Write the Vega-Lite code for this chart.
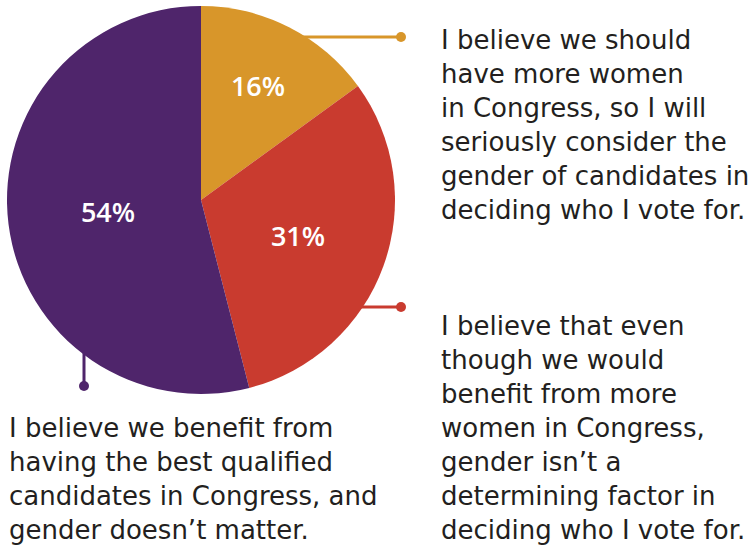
{
  "$schema": "https://vega.github.io/schema/vega-lite/v6.json",
  "width": 754,
  "height": 550,
  "padding": 0,
  "autosize": {"type": "fit", "contains": "padding"},
  "background": "white",
  "config": {"view": {"stroke": null}},
  "datasets": {
    "slices": [
      {"answer": "More women in Congress: consider gender", "share": 15, "label": "16%", "lx": 258, "ly": 88},
      {"answer": "Benefit from more women, but gender not a factor", "share": 31, "label": "31%", "lx": 298, "ly": 238},
      {"answer": "Best qualified candidates, gender doesn't matter", "share": 54, "label": "54%", "lx": 108, "ly": 214}
    ],
    "connectors": [
      {"answer": "More women in Congress: consider gender", "x": 290, "x2": 401, "y": 37, "y2": 37},
      {"answer": "Benefit from more women, but gender not a factor", "x": 350, "x2": 401, "y": 307, "y2": 307},
      {"answer": "Best qualified candidates, gender doesn't matter", "x": 84, "x2": 84, "y": 340, "y2": 386}
    ],
    "dots": [
      {"answer": "More women in Congress: consider gender", "x": 401, "y": 37},
      {"answer": "Benefit from more women, but gender not a factor", "x": 401, "y": 307},
      {"answer": "Best qualified candidates, gender doesn't matter", "x": 84, "y": 386}
    ],
    "notes": [
      {"x": 441, "y": 49, "lines": ["I believe we should", "have more women", "in Congress, so I will", "seriously consider the", "gender of candidates in", "deciding who I vote for."]},
      {"x": 441, "y": 335, "lines": ["I believe that even", "though we would", "benefit from more", "women in Congress,", "gender isn’t a", "determining factor in", "deciding who I vote for."]},
      {"x": 9, "y": 437, "lines": ["I believe we benefit from", "having the best qualified", "candidates in Congress, and", "gender doesn’t matter."]}
    ]
  },
  "layer": [
    {
      "data": {"name": "connectors"},
      "mark": {"type": "rule", "strokeWidth": 3},
      "encoding": {
        "x": {"field": "x", "type": "quantitative", "scale": {"domain": [0, 754], "nice": false, "zero": false}, "axis": null},
        "x2": {"field": "x2"},
        "y": {"field": "y", "type": "quantitative", "scale": {"domain": [0, 550], "nice": false, "zero": false, "reverse": true}, "axis": null},
        "y2": {"field": "y2"},
        "color": {"field": "answer", "type": "nominal", "legend": null,
          "scale": {"domain": ["More women in Congress: consider gender", "Benefit from more women, but gender not a factor", "Best qualified candidates, gender doesn't matter"],
                    "range": ["#D8962A", "#C93B2F", "#4F256B"]}}
      }
    },
    {
      "data": {"name": "slices"},
      "mark": {"type": "arc", "radius": 194, "stroke": null},
      "encoding": {
        "theta": {"field": "share", "type": "quantitative", "stack": true},
        "order": {"field": "share", "type": "quantitative", "sort": "ascending"},
        "x": {"datum": 201, "type": "quantitative"},
        "y": {"datum": 200, "type": "quantitative"},
        "color": {"field": "answer", "type": "nominal", "legend": null}
      }
    },
    {
      "data": {"name": "dots"},
      "mark": {"type": "point", "filled": true, "opacity": 1, "size": 100},
      "encoding": {
        "x": {"field": "x", "type": "quantitative"},
        "y": {"field": "y", "type": "quantitative"},
        "color": {"field": "answer", "type": "nominal", "legend": null}
      }
    },
    {
      "data": {"name": "slices"},
      "mark": {"type": "text", "font": "Open Sans", "fontSize": 27, "fontWeight": 600, "color": "white", "align": "center", "baseline": "middle"},
      "encoding": {
        "x": {"field": "lx", "type": "quantitative"},
        "y": {"field": "ly", "type": "quantitative"},
        "text": {"field": "label"}
      }
    },
    {
      "data": {"name": "notes"},
      "mark": {"type": "text", "font": "DejaVu Sans", "fontSize": 26, "color": "#231F20", "align": "left", "baseline": "alphabetic", "lineHeight": 34},
      "encoding": {
        "x": {"field": "x", "type": "quantitative"},
        "y": {"field": "y", "type": "quantitative"},
        "text": {"field": "lines"}
      }
    }
  ]
}
